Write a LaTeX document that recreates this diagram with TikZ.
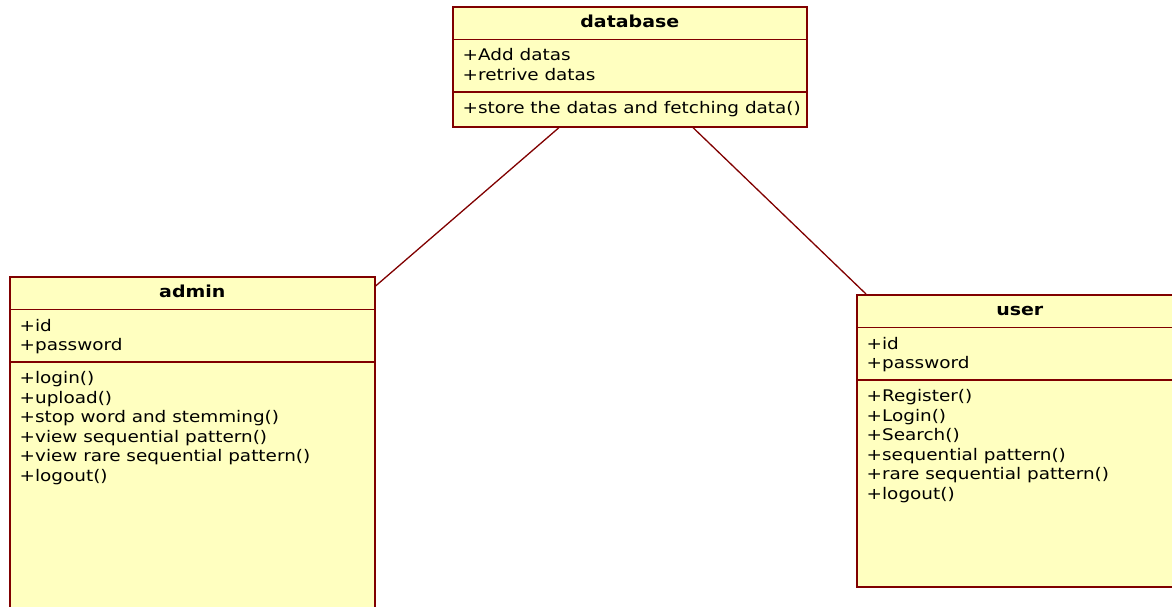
\documentclass[tikz,border=0pt]{standalone}
\usepackage{fontspec}
\setmainfont{DejaVu Sans}[FakeStretch=1.15]

\definecolor{umlfill}{RGB}{255,255,192}
\definecolor{umlline}{RGB}{128,0,0}

\begin{document}
\begin{tikzpicture}[x=1pt, y=-1pt,
    classbox/.style={rectangle, draw=umlline, fill=umlfill, line width=1.6pt, inner sep=0pt, anchor=north west},
    classname/.style={font=\fontsize{16.5}{19.6}\selectfont\bfseries, anchor=base, inner sep=0pt},
    member/.style={font=\fontsize{16}{19.6}\selectfont, anchor=base west, inner sep=0pt},
    compart/.style={draw=umlline, line width=1.4pt},
    assoc/.style={draw=umlline, line width=1.3pt}]

        % Page frame, the lower boxes run off its edges
        \path[use as bounding box, clip] (0,0) rectangle (1172,607);

        % Offsets inside a class box
        \def\namey{21.5}
        \def\firstsep{33.5}
        \def\secondsep{86}
        \def\attry{55}
        \def\opy{107.5}
        \def\lineskip{19.6}

        % The three class boxes
        \node[classbox, minimum width=354pt, minimum height=120pt] (db) at (452,6) {};
        \node[classbox, minimum width=365pt, minimum height=400pt] (admin) at (9,276) {};
        \node[classbox, minimum width=326pt, minimum height=292pt] (user) at (856,294) {};

        % Compartment lines and class names
        \foreach \c/\name in {db/database, admin/admin, user/user} {
            \draw[compart] ([yshift=-\firstsep pt]\c.north west) -- ([yshift=-\firstsep pt]\c.north east);
            \draw[compart] ([yshift=-\secondsep pt]\c.north west) -- ([yshift=-\secondsep pt]\c.north east);
            \node[classname] (\c-name) at ([yshift=-\namey pt]\c.north) {\name};
        }

        % Attributes
        \foreach \txt [count=\i from 0] in {+Add datas, +retrive datas} {
            \pgfmathsetmacro{\yy}{\attry+\i*\lineskip}
            \node[member] (db-attr-\i) at ([xshift=10.5pt, yshift=-\yy pt]db.north west) {\txt};
        }
        \foreach \c in {admin, user} {
            \foreach \txt [count=\i from 0] in {+id, +password} {
                \pgfmathsetmacro{\yy}{\attry+\i*\lineskip}
                \node[member] (\c-attr-\i) at ([xshift=10.5pt, yshift=-\yy pt]\c.north west) {\txt};
            }
        }

        % Operations
        \node[member] (db-op-0) at ([xshift=10.5pt, yshift=-\opy pt]db.north west) {+store the datas and fetching data()};
        \foreach \txt [count=\i from 0] in {+login(), +upload(), +stop word and stemming(), +view sequential pattern(), +view rare sequential pattern(), +logout()} {
            \pgfmathsetmacro{\yy}{\opy+\i*\lineskip}
            \node[member] (admin-op-\i) at ([xshift=10.5pt, yshift=-\yy pt]admin.north west) {\txt};
        }
        \foreach \txt [count=\i from 0] in {+Register(), +Login(), +Search(), +sequential pattern(), +rare sequential pattern(), +logout()} {
            \pgfmathsetmacro{\yy}{\opy+\i*\lineskip}
            \node[member] (user-op-\i) at ([xshift=10.5pt, yshift=-\yy pt]user.north west) {\txt};
        }

        % Associations
        \draw[assoc] ([xshift=107pt]db.south west) -- ([yshift=-10pt]admin.north east);
        \draw[assoc] ([xshift=241pt]db.south west) -- ([xshift=10pt]user.north west);

\end{tikzpicture}
\end{document}
